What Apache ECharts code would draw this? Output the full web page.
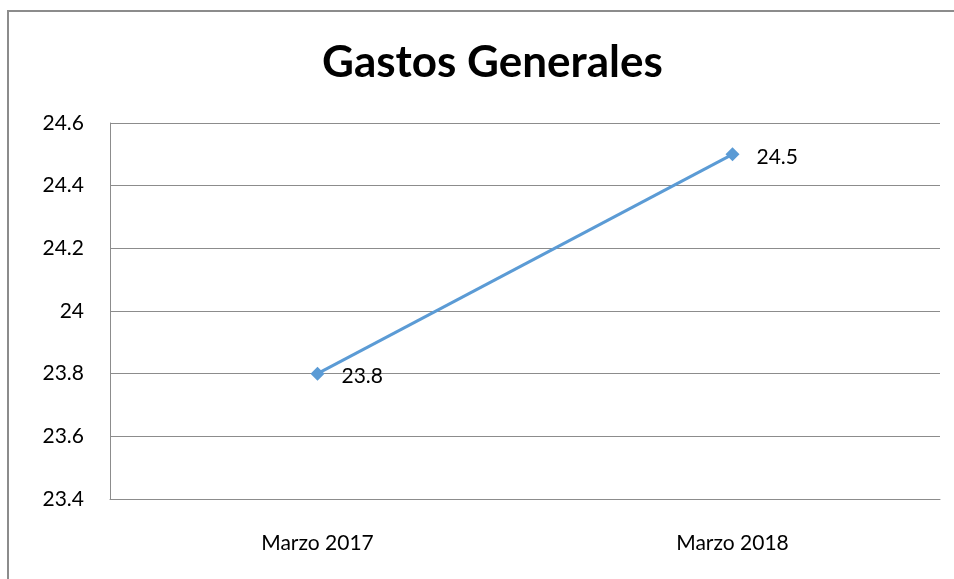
<!DOCTYPE html>
<html><head><meta charset="utf-8">
<script src="https://cdn.jsdelivr.net/npm/echarts@6/dist/echarts.min.js"></script>
<style>html,body{margin:0;padding:0;background:#fff}#c{width:954px;height:579px}</style>
</head><body><div id="c"></div>
<script>
const title = 'Gastos Generales';
const categories = ['Marzo 2017', 'Marzo 2018'];
const values = [23.8, 24.5];
const yMin = 23.4, yMax = 24.6, yStep = 0.2;

const chart = echarts.init(document.getElementById('c'), null, {renderer: 'canvas'});
const font = 'Lato, "Open Sans", sans-serif';
chart.setOption({
  animation: false,
  backgroundColor: '#fff',
  title: {
    text: title, left: 317, top: 36,
    textStyle: {fontFamily: font, fontWeight: 'bold', fontSize: 44, color: '#000'}
  },
  graphic: [{
    type: 'rect', shape: {x: 8, y: 11, width: 1200, height: 1200},
    style: {fill: null, stroke: '#8c8c8c', lineWidth: 2}, silent: true
  }],
  grid: {left: 110, right: 14, top: 123, bottom: 80},
  xAxis: {
    type: 'category', data: categories, boundaryGap: true,
    axisLine: {show: true, lineStyle: {color: '#8c8c8c', width: 1}},
    axisTick: {show: false},
    axisLabel: {color: '#000', fontFamily: font, fontSize: 21, margin: 34}
  },
  yAxis: {
    type: 'value', min: yMin, max: yMax, interval: yStep,
    axisLine: {show: true, lineStyle: {color: '#8c8c8c', width: 1}},
    axisTick: {show: false},
    splitLine: {lineStyle: {color: '#8c8c8c', width: 1}},
    axisLabel: {color: '#000', fontFamily: font, fontSize: 21, margin: 26,
      formatter: v => String(parseFloat(v.toFixed(1)))}
  },
  series: [{
    type: 'line', data: values,
    symbol: 'diamond', symbolSize: 14,
    lineStyle: {color: '#5b9bd5', width: 3},
    itemStyle: {color: '#5b9bd5'},
    label: {show: true, position: 'right', distance: 17, offset: [0, 3],
      color: '#000', fontFamily: font, fontSize: 21}
  }]
});
</script></body></html>
